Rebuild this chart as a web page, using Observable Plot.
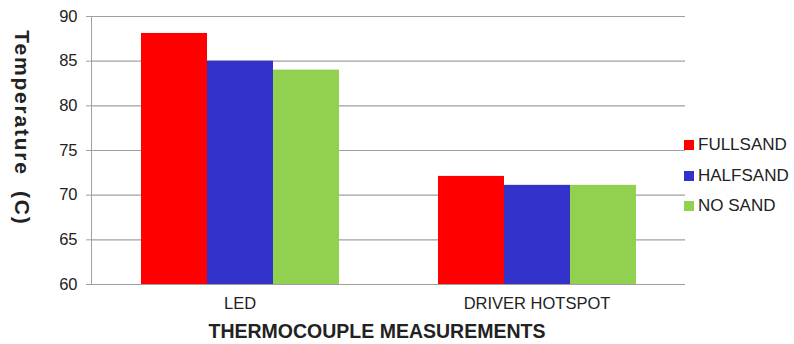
<!DOCTYPE html>
<html>
<head>
<meta charset="utf-8">
<script src="https://cdn.jsdelivr.net/npm/d3@7"></script>
<script src="https://cdn.jsdelivr.net/npm/@observablehq/plot@0.6"></script>
<style>
  html, body { margin: 0; padding: 0; background: #fff; }
  #wrap { position: relative; width: 794px; height: 344px; font-family: "Liberation Sans", Arial, sans-serif; color: #222; }
  #wrap svg text { fill: #222; }
  #ytitle { position: absolute; left: 22px; top: 128px; transform: translate(-50%, -50%) rotate(90deg); white-space: pre; font-weight: bold; font-size: 21px; letter-spacing: 1.8px; }
  #xtitle { position: absolute; left: 377px; top: 331px; transform: translate(-50%, -50%); white-space: pre; font-weight: bold; font-size: 19.5px; }
  #legend { position: absolute; left: 684px; top: 130px; font-size: 17px; }
  #legend .item { display: flex; align-items: center; height: 30.5px; }
  #legend .sw { width: 10px; height: 10px; margin-right: 4px; }
</style>
</head>
<body>
<div id="wrap"></div>
<script>
const categories = ["LED", "DRIVER HOTSPOT"];
const series = ["FULLSAND", "HALFSAND", "NO SAND"];
const fullsand = [88.1, 72.1];
const halfsand = [85.0, 71.1];
const nosand = [84.0, 71.1];
const colors = ["#ff0000", "#3333cc", "#92d050"];
const yTicks = [60, 65, 70, 75, 80, 85, 90];
const yTitle = "Temperature  (C)";
const xTitle = "THERMOCOUPLE MEASUREMENTS";

const valuesBySeries = [fullsand, halfsand, nosand];
const rows = [];
categories.forEach((c, i) => series.forEach((s, j) => rows.push({cat: c, series: s, value: valuesBySeries[j][i]})));

const W = 794, H = 344, ML = 90, MR = 109, MT = 16, MB = 60;
const facetW = (W - ML - MR) / categories.length;
const gray = "#a0a0a0";

const chart = Plot.plot({
  width: W, height: H,
  marginLeft: ML, marginRight: MR, marginTop: MT, marginBottom: MB,
  style: {fontFamily: "'Liberation Sans', Arial, sans-serif", fontSize: "16.5px", color: gray, background: "transparent", overflow: "visible"},
  fx: {domain: categories, padding: 0, label: null, tickSize: 0, tickPadding: 13},
  x: {domain: series, paddingInner: 0, paddingOuter: 0.75, axis: null},
  y: {domain: [60, 90], ticks: yTicks, label: null, tickSize: 5, tickPadding: 9, line: true},
  color: {domain: series, range: colors},
  marks: [
    Plot.ruleY(yTicks, {stroke: gray, strokeWidth: 1.2}),
    Plot.barY(rows, {fx: "cat", x: "series", y1: 60, y2: "value", fill: "series"}),
    Plot.ruleX(categories, {fx: d => d, y1: 60, y2: 60, insetBottom: -6, dx: -facetW / 2, stroke: gray, strokeWidth: 1.2}),
    Plot.ruleX(categories.slice(-1), {fx: d => d, y1: 60, y2: 60, insetBottom: -6, dx: facetW / 2, stroke: gray, strokeWidth: 1.2})
  ]
});

const wrap = document.getElementById("wrap");
wrap.appendChild(chart);

const yt = document.createElement("div");
yt.id = "ytitle"; yt.textContent = yTitle; wrap.appendChild(yt);
const xt = document.createElement("div");
xt.id = "xtitle"; xt.textContent = xTitle; wrap.appendChild(xt);

const legend = document.createElement("div");
legend.id = "legend";
series.forEach((s, j) => {
  const item = document.createElement("div");
  item.className = "item";
  const sw = document.createElement("span");
  sw.className = "sw"; sw.style.background = colors[j];
  const lab = document.createElement("span");
  lab.textContent = s;
  item.appendChild(sw); item.appendChild(lab);
  legend.appendChild(item);
});
wrap.appendChild(legend);
</script>
</body>
</html>
